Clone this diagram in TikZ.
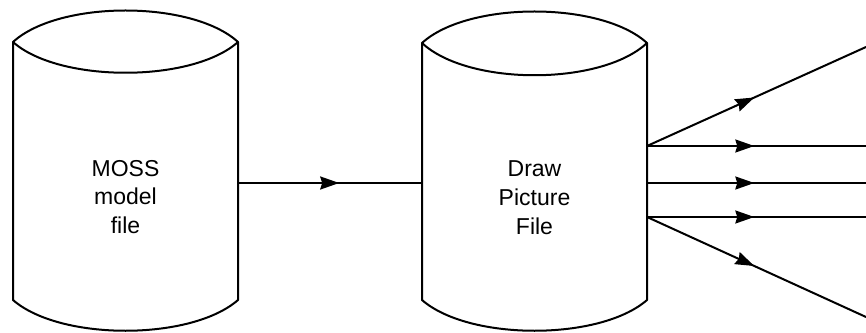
\documentclass[tikz,border=0pt]{standalone}
\usepackage{fontspec}
\setmainfont{Liberation Sans}
\usetikzlibrary{arrows.meta,decorations.markings}

\tikzset{
  wire/.style={line width=2pt,line join=round},
  flow/.style={wire,postaction={decorate},
    decoration={markings,mark=at position #1 with
      {\arrow{Stealth[length=19pt,width=13pt,inset=2pt]}}}},
  flow/.default=0.52,
  label/.style={align=center,font=\fontsize{23}{28.8}\selectfont}
}

\begin{document}
\begin{tikzpicture}[x=1pt,y=1pt]
  \useasboundingbox (0,0) rectangle (866,332);
  % model file store
  \draw[wire,fill=white] (13,290) -- (13,32)
    .. controls (60,-9) and (191,-9) .. (238,32)
    -- (238,290)
    .. controls (192,332) and (59,332) .. (13,290) -- cycle;
  \draw[wire] (13,290) .. controls (59,249) and (192,249) .. (238,290);
  \node[label] (mossfile) at (125.5,135) {MOSS\\model\\file};
  % picture file store
  \draw[wire,fill=white] (422,289) -- (422,32)
    .. controls (469,-9) and (600,-9) .. (647,32)
    -- (647,289)
    .. controls (601,331) and (468,331) .. (422,289) -- cycle;
  \draw[wire] (422,289) .. controls (468,246) and (601,246) .. (647,289);
  \node[label] (picfile) at (534.5,134) {Draw\\Picture\\File};

  \coordinate (moss-out) at (238,149);
  \coordinate (pic-in) at (422,149);
  \coordinate (pic-hi) at (647,186);
  \coordinate (pic-mid) at (647,149);
  \coordinate (pic-lo) at (647,115);
  \coordinate (out-a) at (866,285);
  \coordinate (out-b) at (866,186);
  \coordinate (out-c) at (866,149);
  \coordinate (out-d) at (866,115);
  \coordinate (out-e) at (866,15);

  \draw[flow=0.55] (moss-out) -- (pic-in);
  \draw[flow=0.49] (pic-hi) -- (out-a);
  \draw[flow=0.49] (pic-hi) -- (out-b);
  \draw[flow=0.49] (pic-mid) -- (out-c);
  \draw[flow=0.49] (pic-lo) -- (out-d);
  \draw[flow=0.49] (pic-lo) -- (out-e);
\end{tikzpicture}
\end{document}
